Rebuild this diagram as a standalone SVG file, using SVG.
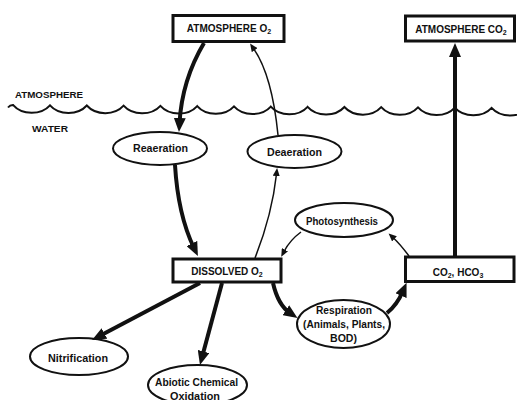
<svg xmlns="http://www.w3.org/2000/svg" width="517" height="400" viewBox="0 0 517 400">
<style>
text{font-family:"Liberation Sans",Arial,sans-serif;font-weight:bold;fill:#111;}
.box{fill:#fff;stroke:#111;stroke-width:3;}
.ell{fill:#fff;stroke:#111;stroke-width:2;}
.lbl{font-size:10px;text-anchor:middle;}
.nl{font-size:10.5px;text-anchor:middle;}
.sub{font-size:7px;}
.thick{fill:none;stroke:#111;stroke-width:4;marker-end:url(#ah);}
.thin{fill:none;stroke:#111;stroke-width:1.5;marker-end:url(#at);}
.wave{fill:none;stroke:#111;stroke-width:2;}
</style>
<defs>
<marker id="ah" viewBox="0 0 14 12" markerWidth="14" markerHeight="12" markerUnits="userSpaceOnUse" refX="5" refY="6" orient="auto"><path d="M0,0 L14,6 L0,12 z" fill="#111"/></marker>
<marker id="at" viewBox="0 0 8 7" markerWidth="8" markerHeight="7" markerUnits="userSpaceOnUse" refX="2" refY="3.5" orient="auto"><path d="M0,0 L8,3.5 L0,7 z" fill="#111"/></marker>
</defs>
<rect width="517" height="400" fill="#fff"/>
<g id="surface">
<path class="wave" d="M 8 107.5 Q 10 105 13.2 105.1 C 22 115.2 41 115.3 50 105.3 C 59 115.4 77.8 115.5 86.8 105.5 C 95.8 115.6 114.6 115.7 123.6 105.7 C 132.6 115.8 151.4 115.9 160.4 105.9 C 169.4 116 188.2 116.1 197.2 106.1 C 206.2 116.2 225 116.4 234 106.4 C 243 116.5 261.8 116.6 270.8 106.6 C 279.8 116.7 298.6 116.8 307.6 106.8 C 316.6 116.9 335.4 117 344.4 107 C 353.4 117.1 372.2 117.2 381.2 107.2 C 390.2 117.3 409 117.4 418 107.4 C 427 117.5 445.8 117.6 454.8 107.6 C 463.8 117.7 482.6 117.9 491.6 107.9 C 500.6 118 519.4 118.1 528.4 108.1"/>
<text x="15" y="98" font-size="9.5" textLength="68" lengthAdjust="spacingAndGlyphs">ATMOSPHERE</text>
<text x="32" y="132" font-size="9.5" textLength="36" lengthAdjust="spacingAndGlyphs">WATER</text>
</g>
<g id="atm-o2"><rect class="box" x="173" y="15.5" width="111" height="26"/><text class="lbl" x="229" y="32">ATMOSPHERE O<tspan class="sub" dy="2">2</tspan></text></g>
<g id="atm-co2"><rect class="box" x="405.5" y="16" width="109" height="25"/><text class="lbl" x="461" y="32.5">ATMOSPHERE CO<tspan class="sub" dy="2">2</tspan></text></g>
<g id="dissolved-o2"><rect class="box" x="173" y="259" width="108" height="23"/><text class="lbl" x="227" y="275">DISSOLVED O<tspan class="sub" dy="2">2</tspan></text></g>
<g id="co2-hco3"><rect class="box" x="405.5" y="257" width="108.5" height="24.5"/><text class="lbl" x="458" y="276">CO<tspan class="sub" dy="2">2</tspan><tspan dy="-2">, HCO</tspan><tspan class="sub" dy="2">3</tspan></text></g>
<g id="reaeration"><ellipse class="ell" cx="160" cy="148.5" rx="47" ry="16.5"/><text class="nl" x="160.5" y="152" textLength="55" lengthAdjust="spacingAndGlyphs">Reaeration</text></g>
<g id="deaeration"><ellipse class="ell" cx="294.5" cy="151.5" rx="47" ry="16.5"/><text class="nl" x="294.5" y="156" textLength="55" lengthAdjust="spacingAndGlyphs">Deaeration</text></g>
<g id="photosynthesis"><ellipse class="ell" cx="344" cy="220" rx="49" ry="17"/><text class="nl" x="342" y="224.5" textLength="72" lengthAdjust="spacingAndGlyphs">Photosynthesis</text></g>
<g id="respiration"><ellipse class="ell" cx="343.5" cy="324" rx="46.5" ry="24"/>
<text class="nl" x="344" y="314" textLength="56" lengthAdjust="spacingAndGlyphs">Respiration</text>
<text class="nl" x="344" y="328" textLength="82" lengthAdjust="spacingAndGlyphs">(Animals, Plants,</text>
<text class="nl" x="343.5" y="341.5" textLength="27" lengthAdjust="spacingAndGlyphs">BOD)</text></g>
<g id="nitrification"><ellipse class="ell" cx="79" cy="356.5" rx="49" ry="18.5"/><text class="nl" x="78" y="362" textLength="60" lengthAdjust="spacingAndGlyphs">Nitrification</text></g>
<g id="abiotic"><ellipse class="ell" cx="197.5" cy="385" rx="49.5" ry="20"/>
<text class="nl" x="196.5" y="386" textLength="83" lengthAdjust="spacingAndGlyphs">Abiotic Chemical</text>
<text class="nl" x="195" y="399.5" textLength="50" lengthAdjust="spacingAndGlyphs">Oxidation</text></g>
<g id="connectors">
<path class="thick" d="M 204 43 Q 182 80 179.5 123"/>
<path class="thick" d="M 175 165 Q 178 215 194 248"/>
<path class="thin" d="M 255 258 Q 272 215 276.5 174"/>
<path class="thin" d="M 278 135 Q 272 75 253.5 48.5"/>
<path class="thick" d="M 455 257 L 455 52"/>
<path class="thick" d="M 273 283 Q 278 305 290 313"/>
<path class="thick" d="M 387 313 Q 397 305 403 291"/>
<path class="thin" d="M 409 256 Q 400 244 393 237.5"/>
<path class="thin" d="M 301 232 Q 290 240 284 251.5"/>
<path class="thick" d="M 200 283 L 100 335.8"/>
<path class="thick" d="M 222 283 L 202.3 356.3"/>
</g>
</svg>
